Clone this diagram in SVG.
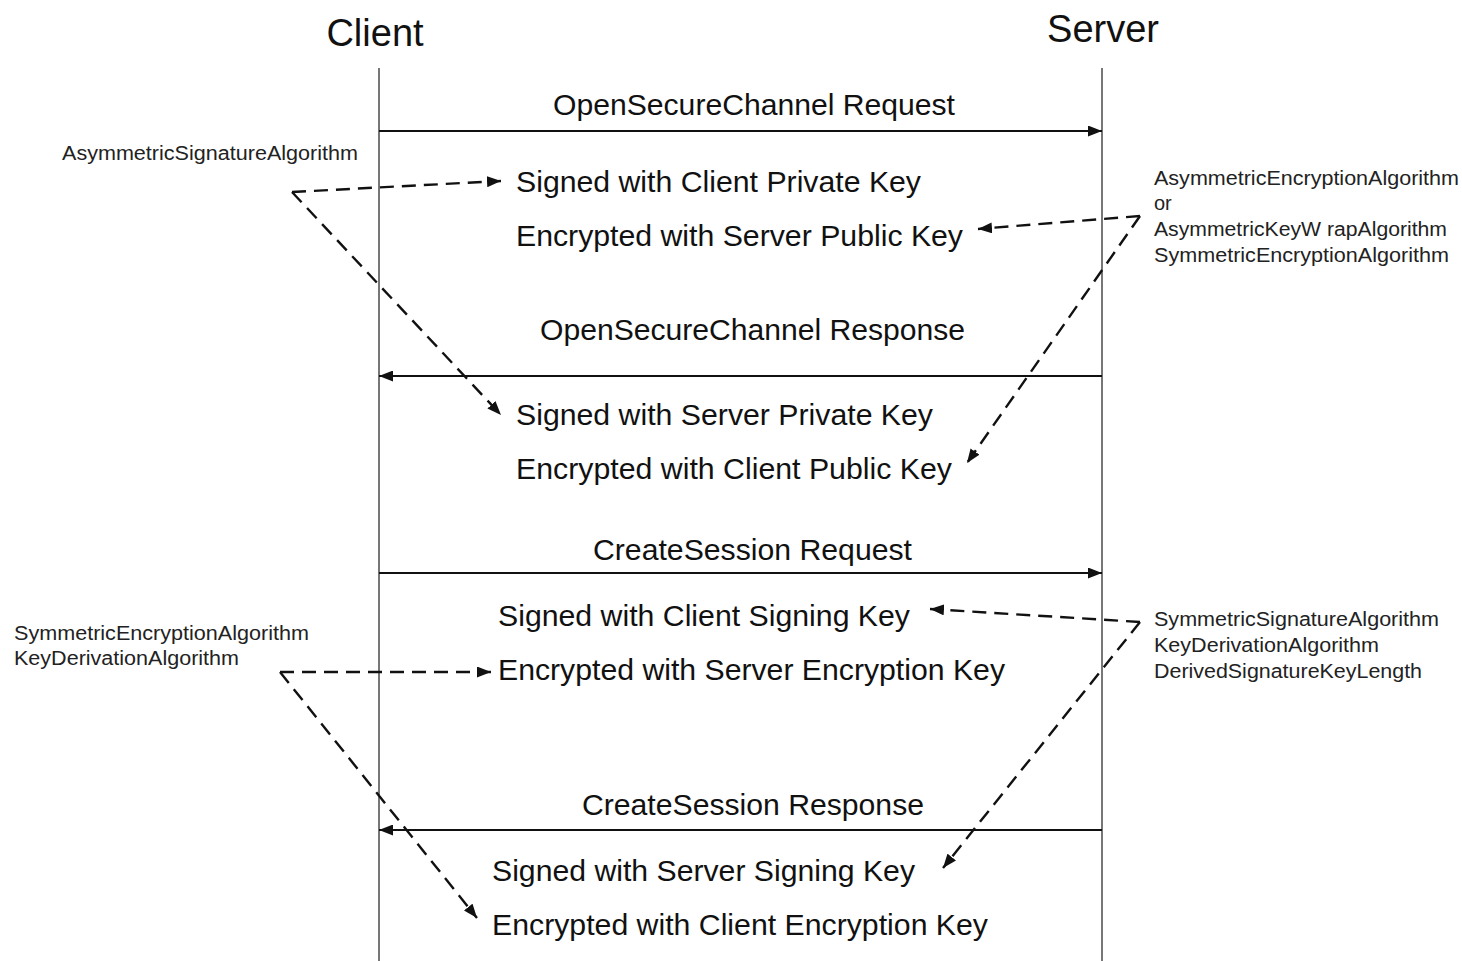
<svg xmlns="http://www.w3.org/2000/svg" width="1462" height="961" viewBox="0 0 1462 961">
<style>
.title{font-family:"Liberation Sans",Arial,sans-serif;font-size:38px;fill:#111}
.msg{font-family:"Liberation Sans",Arial,sans-serif;font-size:29px;fill:#111}
.note{font-family:"Liberation Sans",Arial,sans-serif;font-size:20px;fill:#222}
.life{stroke:#555;stroke-width:1.6;fill:none}
.solid{stroke:#111;stroke-width:2;fill:none}
.dash{stroke:#111;stroke-width:2.4;fill:none;stroke-dasharray:14 8}
</style>
<defs>
<marker id="ah" viewBox="0 0 14 11" refX="14" refY="5.5" markerWidth="14" markerHeight="11" markerUnits="userSpaceOnUse" orient="auto">
<path d="M0,0 L14,5.5 L0,11 Z" fill="#111"/>
</marker>
</defs>
<rect width="1462" height="961" fill="#fff"/>
<g id="client">
<text class="title" x="375" y="46" text-anchor="middle">Client</text>
<line class="life" x1="379" y1="68" x2="379" y2="961"/>
</g>
<g id="server">
<text class="title" x="1103" y="42" text-anchor="middle">Server</text>
<line class="life" x1="1102" y1="68" x2="1102" y2="961"/>
</g>
<g id="msg-osc-req">
<text class="msg" x="553" y="115" textLength="402" lengthAdjust="spacingAndGlyphs">OpenSecureChannel Request</text>
<text class="msg" x="516" y="192" textLength="405" lengthAdjust="spacingAndGlyphs">Signed with Client Private Key</text>
<text class="msg" x="516" y="246" textLength="447" lengthAdjust="spacingAndGlyphs">Encrypted with Server Public Key</text>
</g>
<g id="msg-osc-resp">
<text class="msg" x="540" y="340" textLength="425" lengthAdjust="spacingAndGlyphs">OpenSecureChannel Response</text>
<text class="msg" x="516" y="425" textLength="417" lengthAdjust="spacingAndGlyphs">Signed with Server Private Key</text>
<text class="msg" x="516" y="479" textLength="436" lengthAdjust="spacingAndGlyphs">Encrypted with Client Public Key</text>
</g>
<g id="msg-cs-req">
<text class="msg" x="593" y="560" textLength="319" lengthAdjust="spacingAndGlyphs">CreateSession Request</text>
<text class="msg" x="498" y="626" textLength="412" lengthAdjust="spacingAndGlyphs">Signed with Client Signing Key</text>
<text class="msg" x="498" y="680" textLength="507" lengthAdjust="spacingAndGlyphs">Encrypted with Server Encryption Key</text>
</g>
<g id="msg-cs-resp">
<text class="msg" x="582" y="815" textLength="342" lengthAdjust="spacingAndGlyphs">CreateSession Response</text>
<text class="msg" x="492" y="881" textLength="423" lengthAdjust="spacingAndGlyphs">Signed with Server Signing Key</text>
<text class="msg" x="492" y="935" textLength="496" lengthAdjust="spacingAndGlyphs">Encrypted with Client Encryption Key</text>
</g>
<g id="note-asym-sig">
<text class="note" x="62" y="160" textLength="296" lengthAdjust="spacingAndGlyphs">AsymmetricSignatureAlgorithm</text>
</g>
<g id="note-asym-enc">
<text class="note" x="1154" y="185" textLength="305" lengthAdjust="spacingAndGlyphs">AsymmetricEncryptionAlgorithm</text>
<text class="note" x="1154" y="210">or</text>
<text class="note" x="1154" y="236" textLength="293" lengthAdjust="spacingAndGlyphs">AsymmetricKeyW rapAlgorithm</text>
<text class="note" x="1154" y="262" textLength="295" lengthAdjust="spacingAndGlyphs">SymmetricEncryptionAlgorithm</text>
</g>
<g id="note-sym-sig">
<text class="note" x="1154" y="626" textLength="285" lengthAdjust="spacingAndGlyphs">SymmetricSignatureAlgorithm</text>
<text class="note" x="1154" y="652" textLength="225" lengthAdjust="spacingAndGlyphs">KeyDerivationAlgorithm</text>
<text class="note" x="1154" y="678" textLength="268" lengthAdjust="spacingAndGlyphs">DerivedSignatureKeyLength</text>
</g>
<g id="note-sym-enc">
<text class="note" x="14" y="640" textLength="295" lengthAdjust="spacingAndGlyphs">SymmetricEncryptionAlgorithm</text>
<text class="note" x="14" y="665" textLength="225" lengthAdjust="spacingAndGlyphs">KeyDerivationAlgorithm</text>
</g>
<g id="connectors">
<line class="solid" x1="379" y1="131" x2="1102" y2="131" marker-end="url(#ah)"/>
<line class="solid" x1="1102" y1="376" x2="379" y2="376" marker-end="url(#ah)"/>
<line class="solid" x1="379" y1="573" x2="1102" y2="573" marker-end="url(#ah)"/>
<line class="solid" x1="1102" y1="830" x2="379" y2="830" marker-end="url(#ah)"/>
<line class="dash" x1="292" y1="192" x2="501" y2="181" marker-end="url(#ah)"/>
<line class="dash" x1="292" y1="192" x2="501" y2="415" marker-end="url(#ah)"/>
<line class="dash" x1="1140" y1="216" x2="978" y2="229" marker-end="url(#ah)"/>
<line class="dash" x1="1140" y1="216" x2="967" y2="463" marker-end="url(#ah)"/>
<line class="dash" x1="280" y1="672" x2="491" y2="672" marker-end="url(#ah)"/>
<line class="dash" x1="280" y1="672" x2="477" y2="918" marker-end="url(#ah)"/>
<line class="dash" x1="1140" y1="622" x2="930" y2="609" marker-end="url(#ah)"/>
<line class="dash" x1="1140" y1="622" x2="943" y2="868" marker-end="url(#ah)"/>
</g>
</svg>
